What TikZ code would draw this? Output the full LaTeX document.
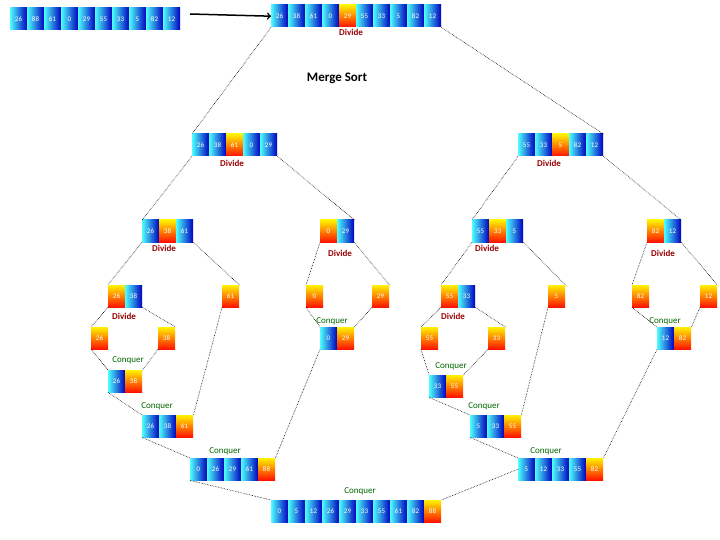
\documentclass[tikz,border=0pt]{standalone}
\usepackage{fontspec}
\setmainfont{Carlito}
\begin{document}
\begin{tikzpicture}[x=1pt,y=-1pt,
 cellb/.style={draw=none,minimum width=17pt,minimum height=22pt,inner sep=0,left color=cyan!70!white,right color=blue!75!black,text=white,font=\fontsize{7}{8}\selectfont},
 cello/.style={draw=none,minimum width=17pt,minimum height=22pt,inner sep=0,top color=yellow!90!orange,bottom color=red!85!orange,text=white,font=\fontsize{7}{8}\selectfont},
 dv/.style={text=red!60!black,font=\bfseries\fontsize{9}{10}\selectfont},
 cq/.style={text=green!40!black,font=\fontsize{9}{10}\selectfont},
 ln/.style={densely dotted,line width=0.6pt}]
\useasboundingbox (0,0) rectangle (720,540);
\newcommand\arr[6]{%
 \foreach \v [count=\i] in {#5}{%
  \ifnum\i=#6 \def\st{cello}\else\def\st{cellb}\fi
  \node[\st] (#1-\i) at (#2+\i*17-8.5,#3+11) {\v};}
 \node[minimum width=#4*17pt,minimum height=22pt,inner sep=0,anchor=north west] (#1) at (#2,#3) {};}
\arr{A0}{10}{8}{10}{26,88,61,0,29,55,33,5,82,12}{0}
\arr{A1}{271}{5}{10}{26,38,61,0,29,55,33,5,82,12}{5}
\node[dv] (lA1) at (351,32) {Divide};
\draw[-{>[scale=1.3]},line width=1.5pt] (190,14) -- (A1.west);
\node[font=\bfseries\fontsize{13}{14}\selectfont] (title) at (337,78) {Merge Sort};
\arr{B1}{192}{134}{5}{26,38,61,0,29}{3}
\arr{B2}{518}{134}{5}{55,33,5,82,12}{3}
\node[dv] (lB1) at (232,163) {Divide};
\node[dv] (lB2) at (549,163) {Divide};
\arr{C1}{142}{220}{3}{26,38,61}{2}
\arr{C2}{320}{220}{2}{0,29}{1}
\arr{C3}{472}{220}{3}{55,33,5}{2}
\arr{C4}{647}{220}{2}{82,12}{1}
\node[dv] (lC1) at (164,248) {Divide};
\node[dv] (lC2) at (340,253) {Divide};
\node[dv] (lC3) at (487,248) {Divide};
\node[dv] (lC4) at (663,253) {Divide};
\arr{D1}{108}{285}{2}{26,38}{1}
\arr{D2}{222}{285}{1}{61}{1}
\arr{D3}{306}{285}{1}{0}{1}
\arr{D4}{372}{285}{1}{29}{1}
\arr{D5}{441}{285}{2}{55,33}{1}
\arr{D6}{548}{285}{1}{5}{1}
\arr{D7}{632}{285}{1}{82}{1}
\arr{D8}{700}{285}{1}{12}{1}
\node[dv] (lD1) at (124,316) {Divide};
\node[cq] (lF) at (332,321) {Conquer};
\node[dv] (lD5) at (453,316) {Divide};
\node[cq] (lF2) at (665,321) {Conquer};
\arr{E1}{91}{327}{1}{26}{1}
\arr{E2}{158}{327}{1}{38}{1}
\arr{F}{320}{327}{2}{0,29}{2}
\arr{E3}{421}{327}{1}{55}{1}
\arr{E4}{488}{327}{1}{33}{1}
\arr{F2}{657}{327}{2}{12,82}{2}
\node[cq] (lG1) at (128,360) {Conquer};
\arr{G1}{108}{370}{2}{26,38}{2}
\node[cq] (lG2) at (451,366) {Conquer};
\arr{G2}{429}{375}{2}{33,55}{2}
\node[cq] (lH1) at (157,406) {Conquer};
\arr{H1}{142}{415}{3}{26,38,61}{3}
\node[cq] (lH2) at (484,406) {Conquer};
\arr{H2}{470}{415}{3}{5,33,55}{3}
\node[cq] (lI1) at (225,451) {Conquer};
\arr{I1}{190}{458}{5}{0,26,29,61,88}{5}
\node[cq] (lI2) at (546,451) {Conquer};
\arr{I2}{518}{458}{5}{5,12,33,55,82}{5}
\node[cq] (lJ) at (360,491) {Conquer};
\arr{J}{271}{500}{10}{0,5,12,26,29,33,55,61,82,88}{10}
% divide lines
\draw[ln] (A1.south west) -- (B1.north west);
\draw[ln] (A1.south east) -- (B2.north east);
\draw[ln] (B1.south west) -- (C1.north west);
\draw[ln] (B1.south east) -- (C2.north east);
\draw[ln] (B2.south west) -- (C3.north west);
\draw[ln] (B2.south east) -- (C4.north east);
\draw[ln] (C1.south west) -- (D1.north west);
\draw[ln] (C1.south east) -- (D2.north east);
\draw[ln] (C2.south west) -- (D3.north west);
\draw[ln] (C2.south east) -- (D4.north east);
\draw[ln] (C3.south west) -- (D5.north west);
\draw[ln] (C3.south east) -- (D6.north east);
\draw[ln] (C4.south west) -- (D7.north west);
\draw[ln] (C4.south east) -- (D8.north east);
\draw[ln] (D1.south west) -- (E1.north west);
\draw[ln] (D1.south east) -- (E2.north east);
\draw[ln] (D5.south west) -- (E3.north west);
\draw[ln] (D5.south east) -- (E4.north east);
% conquer lines
\draw[ln] (E1.south west) -- (G1.north west);
\draw[ln] (E2.south west) -- (G1.north east);
\draw[ln] (E3.south west) -- (G2.north west);
\draw[ln] (E4.south west) -- (G2.north east);
\draw[ln] (D3.south west) -- (F.north west);
\draw[ln] (D4.south west) -- (F.north east);
\draw[ln] (D7.south west) -- (F2.north west);
\draw[ln] (D8.south west) -- (F2.north east);
\draw[ln] (G1.south west) -- (H1.north west);
\draw[ln] (D2.south west) -- (H1.north east);
\draw[ln] (G2.south west) -- (H2.north west);
\draw[ln] (D6.south west) -- (H2.north east);
\draw[ln] (H1.south west) -- (I1.north west);
\draw[ln] (F.south west) -- (I1.north east);
\draw[ln] (H2.south west) -- (I2.north west);
\draw[ln] (F2.south west) -- (I2.north east);
\draw[ln] (I1.south west) -- (J.north west);
\draw[ln] (I2.west) -- (J.north east);
\end{tikzpicture}
\end{document}
